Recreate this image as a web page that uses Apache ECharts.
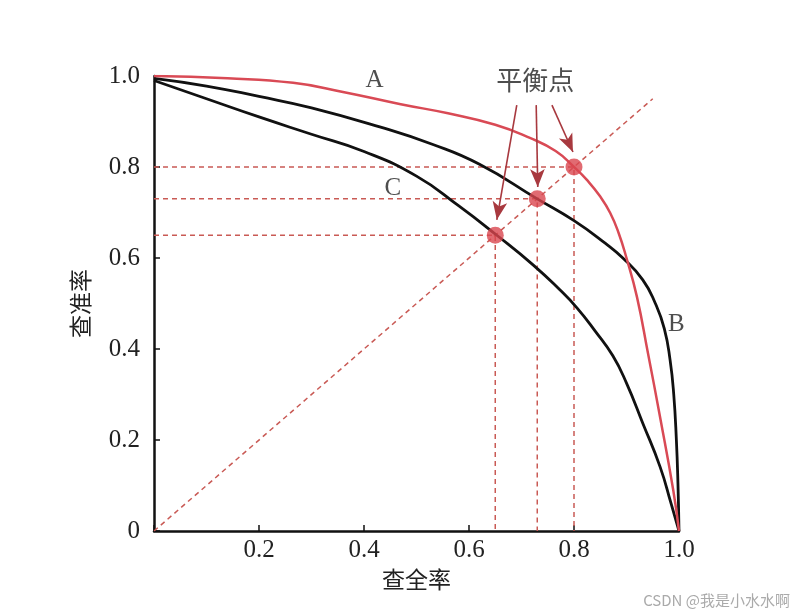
<!DOCTYPE html>
<html><head><meta charset="utf-8">
<script src="https://cdn.jsdelivr.net/npm/echarts@6/dist/echarts.min.js"></script>
<style>html,body{margin:0;padding:0;background:#fff}#c{width:802px;height:616px}</style>
</head><body><div id="c"></div>
<script>
// Curve A (red)
const curveA = [[0,1.0],[0.14,0.995],[0.265,0.985],[0.36,0.965],[0.47,0.938],[0.56,0.918],[0.65,0.893],[0.716,0.864],[0.765,0.835],[0.80,0.80],[0.825,0.771],[0.85,0.735],[0.869,0.699],[0.885,0.655],[0.90,0.60],[0.92,0.514],[0.941,0.39],[0.964,0.25],[0.989,0.09],[1.0,0]];
// Curve B (outer black)
const curveB = [[0,0.995],[0.1,0.978],[0.2,0.955],[0.3,0.93],[0.43,0.888],[0.53,0.85],[0.62,0.806],[0.73,0.73],[0.80,0.682],[0.86,0.632],[0.893,0.60],[0.931,0.552],[0.955,0.50],[0.972,0.445],[0.983,0.376],[0.99,0.30],[0.995,0.20],[0.998,0.105],[1.0,0]];
// Curve C (inner black)
const curveC = [[0,0.99],[0.1,0.95],[0.2,0.91],[0.3,0.872],[0.4,0.834],[0.5,0.78],[0.58,0.715],[0.653,0.65],[0.722,0.585],[0.773,0.53],[0.806,0.49],[0.84,0.44],[0.874,0.385],[0.90,0.325],[0.931,0.237],[0.964,0.141],[0.985,0.06],[1.0,0]];
// Break-even points
const breakEven = [0.65, 0.73, 0.80];
// Diagonal P=R line end
const diagEnd = 0.95;
// Curve labels [x, y, text]
const curveLabels = [[0.42,0.99,'A'],[0.995,0.453,'B'],[0.455,0.752,'C']];
// Annotation text and arrows
const bepLabel = [0.726, 0.99, '平衡点'];
const arrows = [[[0.691,0.936],[0.653,0.684]],[[0.728,0.936],[0.731,0.756]],[[0.758,0.936],[0.798,0.833]]];

const serif = '"Liberation Serif","DejaVu Serif",serif';
const cjk = '"Noto Sans CJK SC","Noto Sans CJK JP",sans-serif';
const dashRed = '#c95a55';

const series = [];
series.push({type:'line', data:[[0,0],[diagEnd,diagEnd]], symbol:'none', silent:true,
  lineStyle:{color:dashRed, width:1.5, type:[5,4]}, z:1});
breakEven.forEach(v => {
  series.push({type:'line', data:[[0,v],[v,v],[v,0]], symbol:'none', silent:true,
    lineStyle:{color:dashRed, width:1.5, type:[5,4]}, z:1});
});
const curveStyle = {type:'line', smooth:0.5, symbol:'none'};
series.push(Object.assign({}, curveStyle, {data:curveC, lineStyle:{color:'#111', width:2.8}, z:3}));
series.push(Object.assign({}, curveStyle, {data:curveB, lineStyle:{color:'#111', width:2.8}, z:3}));
series.push(Object.assign({}, curveStyle, {data:curveA, lineStyle:{color:'#d94a55', width:2.5}, z:4}));
series.push({type:'scatter', data:breakEven.map(v=>[v,v]), symbolSize:17, itemStyle:{color:'#d9464f'}, z:6});
series.push({type:'scatter', data:curveLabels.map(l=>[l[0],l[1],l[2]]), symbolSize:0, z:7,
  label:{show:true, position:'inside', formatter:p=>p.data[2], fontFamily:serif, fontSize:25, color:'#222'}});
series.push({type:'scatter', data:[[bepLabel[0],bepLabel[1],bepLabel[2]]], symbolSize:0, z:7,
  label:{show:true, position:'inside', formatter:p=>p.data[2], fontFamily:cjk, fontSize:26, color:'#222'},
  markLine:{silent:true, symbol:['none','arrow'], symbolSize:[11,18],
    lineStyle:{color:'#a8393f', width:1.6, type:'solid'}, label:{show:false},
    data: arrows.map(a=>[{coord:a[0]},{coord:a[1]}])}});

const chart = echarts.init(document.getElementById('c'), null, {renderer:'canvas'});
chart.setOption({
  animation:false,
  backgroundColor:'#fff',
  grid:{left:154, right:123, top:76, bottom:85, containLabel:false},
  xAxis:{type:'value', min:0, max:1, interval:0.2,
    name:'查全率', nameLocation:'middle', nameGap:36,
    nameTextStyle:{fontFamily:cjk, fontSize:23, color:'#222'},
    axisLine:{lineStyle:{color:'#111', width:2.5}},
    axisTick:{inside:true, length:6, lineStyle:{color:'#111', width:1.5}},
    axisLabel:{fontFamily:serif, fontSize:25, color:'#222', margin:7,
      formatter:v=> v===0 ? '' : v.toFixed(1)},
    splitLine:{show:false}},
  yAxis:{type:'value', min:0, max:1, interval:0.2,
    name:'查准率', nameLocation:'middle', nameGap:62, nameRotate:90,
    nameTextStyle:{fontFamily:cjk, fontSize:23, color:'#222'},
    axisLine:{lineStyle:{color:'#111', width:2.5}},
    axisTick:{inside:true, length:6, lineStyle:{color:'#111', width:1.5}},
    axisLabel:{fontFamily:serif, fontSize:25, color:'#222', margin:14,
      formatter:v=> v===0 ? '0' : v.toFixed(1)},
    splitLine:{show:false}},
  graphic:[{type:'text', right:12, bottom:8, style:{text:'CSDN @我是小水水啊', font:'15px "Noto Sans CJK SC", sans-serif', fill:'#aaa'}}],
  series:series
});
</script></body></html>
